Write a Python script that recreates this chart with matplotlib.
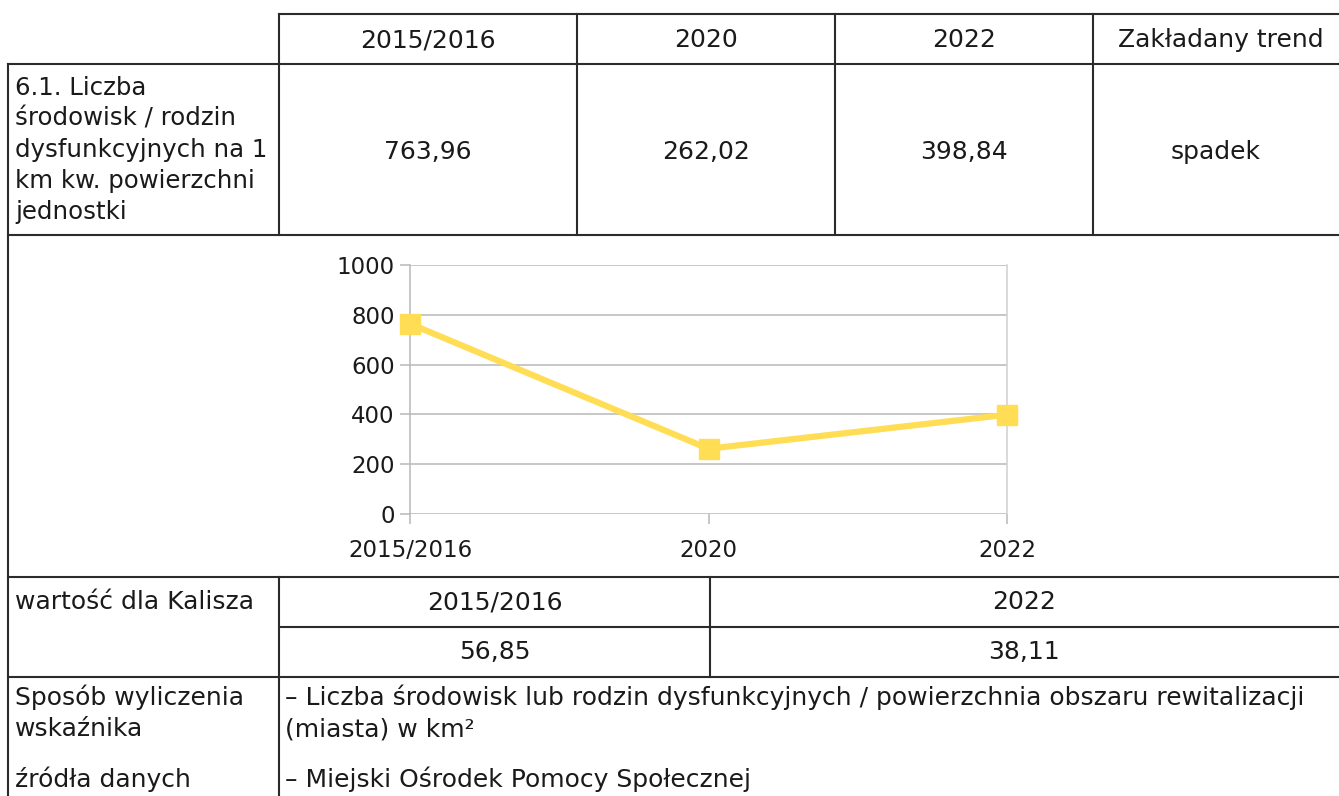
import matplotlib
matplotlib.use("Agg")
import matplotlib.pyplot as plt
from matplotlib.lines import Line2D

plt.rcParams['font.family'] = ['DejaVu Sans']

# data
headerLabels = ['2015/2016', '2020', '2022', 'Zakładany trend']
years = ['2015/2016', '2020', '2022']
values = [763.96, 262.02, 398.84]
valueLabels = ['763,96', '262,02', '398,84']
trend = 'spadek'
indicatorName = '6.1. Liczba\nśrodowisk / rodzin\ndysfunkcyjnych na 1\nkm kw. powierzchni\njednostki'
kaliszYears = ['2015/2016', '2022']
kaliszValues = ['56,85', '38,11']

W, H = 1339, 796
FS = 18
fig = plt.figure(figsize=(W / 100, H / 100), dpi=100)
fig.patch.set_facecolor('white')

def fx(x):
    return x / W

def fy(y):
    return 1 - y / H

def hline(y, x1, x2):
    fig.add_artist(Line2D([fx(x1), fx(x2)], [fy(y), fy(y)], color='#2b2b2b', lw=1.5))

def vline(x, y1, y2):
    fig.add_artist(Line2D([fx(x), fx(x)], [fy(y1), fy(y2)], color='#2b2b2b', lw=1.5))

def txt(x, y, s, ha='center', size=FS, **kw):
    fig.text(fx(x), fy(y), s, ha=ha, va='center', fontsize=size, color='#1a1a1a', **kw)

# table grid
hline(14, 279, W)
hline(64, 8, W)
hline(235, 8, W)
hline(577, 8, W)
hline(627, 279, W)
hline(677, 8, W)
vline(8, 64, H)
vline(279, 14, 235)
vline(279, 577, H)
for x in [577, 835, 1093]:
    vline(x, 14, 235)
vline(710, 577, 677)

# header + values
colCenters = [428, 706, 964, 1221]
for c, s in zip(colCenters, headerLabels):
    txt(c, 40, s)
for c, s in zip(colCenters[:3], valueLabels):
    txt(c, 152, s)
txt(1216, 152, trend)
fig.text(fx(15), fy(150), indicatorName, ha='left', va='center', fontsize=17.6,
         color='#1a1a1a', linespacing=1.38)

# Kalisz rows
txt(15, 602, 'wartość dla Kalisza', ha='left')
for c, y, v in zip([495, 1024], kaliszYears, kaliszValues):
    txt(c, 602, y)
    txt(c, 652, v)

# bottom rows
txt(15, 697, 'Sposób wyliczenia', ha='left')
txt(15, 729, 'wskaźnika', ha='left')
txt(15, 779, 'źródła danych', ha='left')
txt(285, 697, '– Liczba środowisk lub rodzin dysfunkcyjnych / powierzchnia obszaru rewitalizacji', ha='left')
txt(285, 729, '(miasta) w km²', ha='left')
txt(285, 779, '– Miejski Ośrodek Pomocy Społecznej', ha='left')

# chart
ax = fig.add_axes([fx(410), fy(514), fx(1007) - fx(410), fy(265) - fy(514)])
x = list(range(len(years)))
ax.plot(x, values, color='#ffdd55', lw=4.5, marker='s', markersize=14,
        clip_on=False, zorder=5)
ax.set_xlim(0, len(years) - 1)
ax.set_ylim(0, 1000)
ax.set_yticks(range(0, 1001, 200))
ax.set_xticks(x)
ax.set_xticklabels(years)
ax.grid(axis='y', color='#b8b8b8', lw=1.1)
for side in ['top', 'bottom']:
    ax.spines[side].set_visible(False)
ax.spines['left'].set_color('#b8b8b8')
ax.spines['right'].set_color('#d0d0d0')
ax.spines['left'].set_linewidth(1.1)
ax.spines['right'].set_linewidth(1.1)
ax.tick_params(axis='y', length=7, width=1.1, color='#b8b8b8', labelsize=16.5,
               labelcolor='#1a1a1a', pad=4)
ax.tick_params(axis='x', length=7, width=1.1, color='#b8b8b8', labelsize=16.5,
               labelcolor='#1a1a1a', pad=11)
ax.set_axisbelow(True)

fig.savefig('out.png', dpi=100)
